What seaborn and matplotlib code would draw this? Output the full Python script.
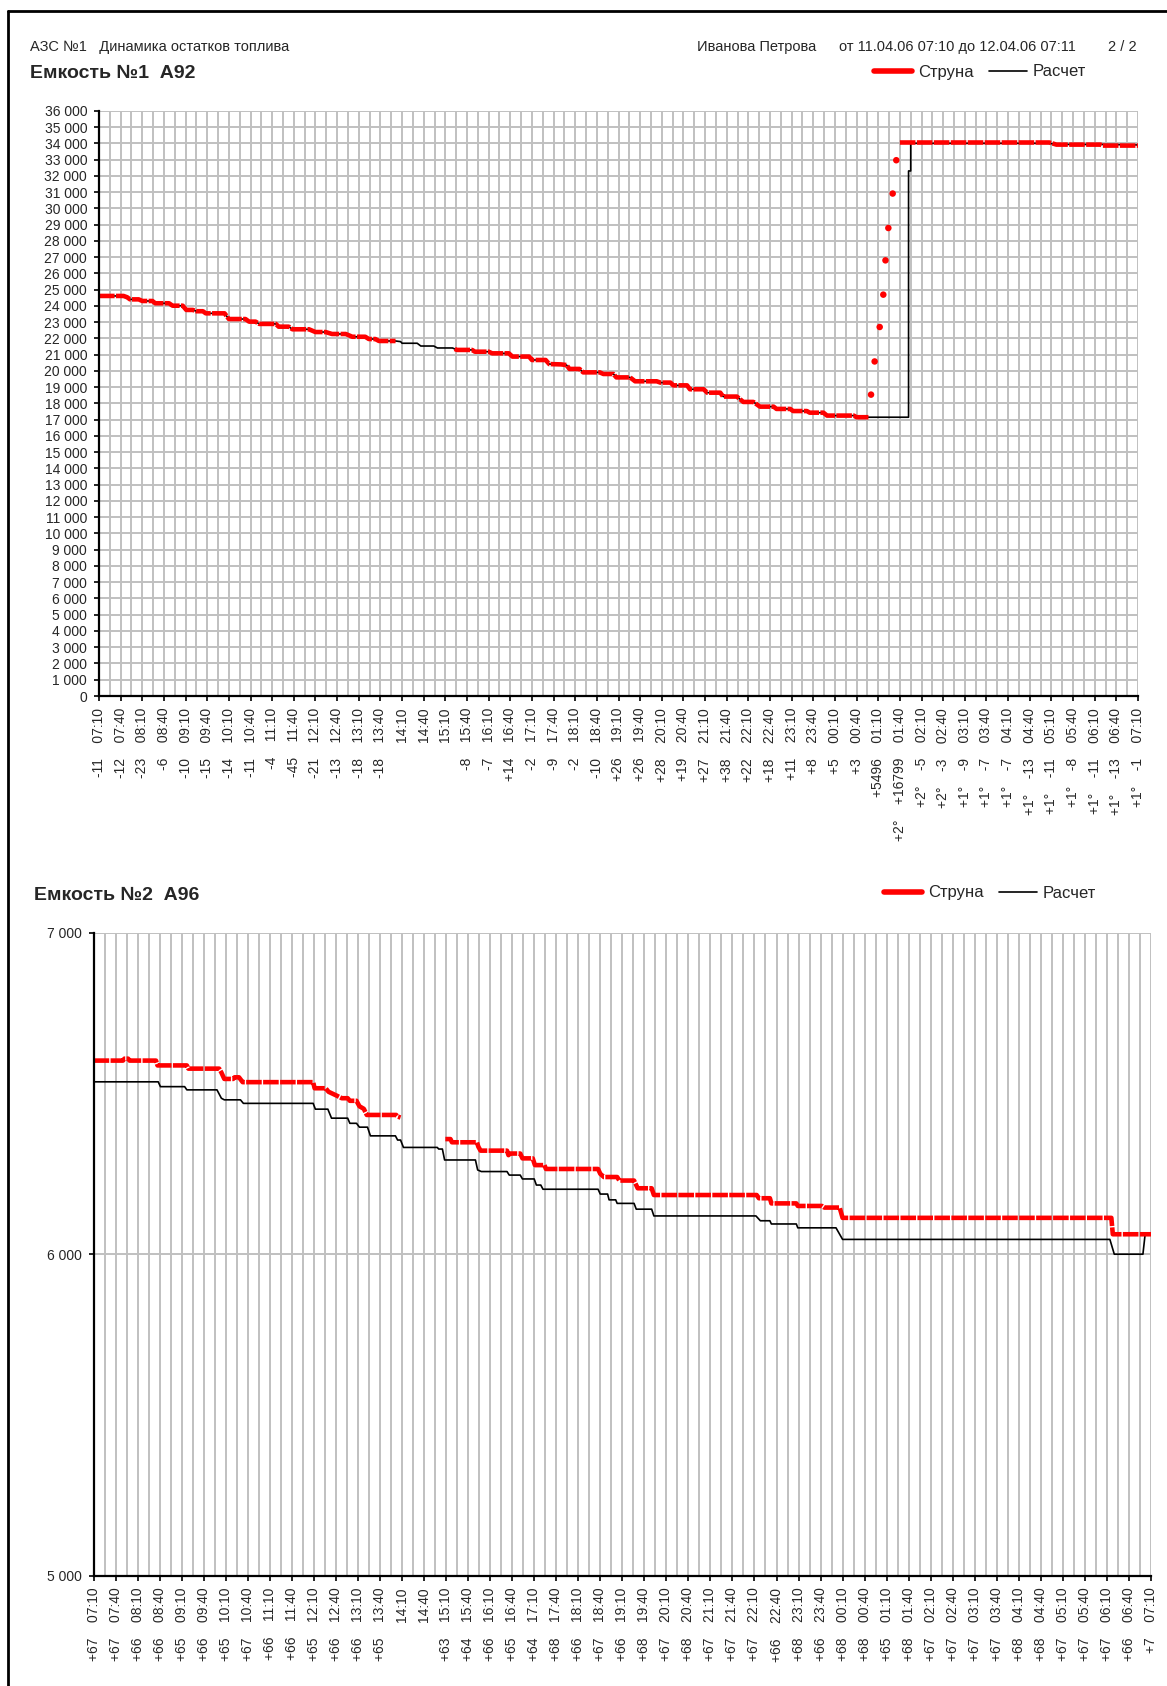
import numpy as np
import pandas as pd
import seaborn as sns
import matplotlib.pyplot as plt
from matplotlib.lines import Line2D
from matplotlib.ticker import MultipleLocator, FixedLocator, FuncFormatter

# -----------------------------------------------------
# Data (minutes since 11.04.06 07:10, litres)
# -----------------------------------------------------

tick_times = ["07:10", "07:40", "08:10", "08:40", "09:10", "09:40", "10:10", "10:40",
              "11:10", "11:40", "12:10", "12:40", "13:10", "13:40", "14:10", "14:40",
              "15:10", "15:40", "16:10", "16:40", "17:10", "17:40", "18:10", "18:40",
              "19:10", "19:40", "20:10", "20:40", "21:10", "21:40", "22:10", "22:40",
              "23:10", "23:40", "00:10", "00:40", "01:10", "01:40", "02:10", "02:40",
              "03:10", "03:40", "04:10", "04:40", "05:10", "05:40", "06:10", "06:40", "07:10"]
tick_minutes = list(range(0, 1441, 30))

# tank 1 tick annotations
t1_delta = ["-11", "-12", "-23", "-6", "-10", "-15", "-14", "-11", "-4", "-45", "-21", "-13",
            "-18", "-18", "", "", "", "-8", "-7", "+14", "-2", "-9", "-2", "-10", "+26", "+26",
            "+28", "+19", "+27", "+38", "+22", "+18", "+11", "+8", "+5", "+3", "+5496", "+16799",
            "-5", "-3", "-9", "-7", "-7", "-13", "-11", "-8", "-11", "-13", "-1"]
t1_temp = [""] * 37 + ["+2°", "+2°", "+2°", "+1°", "+1°", "+1°", "+1°", "+1°", "+1°", "+1°",
                       "+1°", "+1°"]

# tank 2 tick annotations
t2_delta = ["+67", "+67", "+66", "+66", "+65", "+66", "+65", "+67", "+66", "+66", "+65", "+66",
            "+66", "+65", "", "", "+63", "+64", "+66", "+65", "+64", "+68", "+66", "+67", "+66",
            "+68", "+67", "+68", "+67", "+67", "+67", "+66", "+68", "+66", "+68", "+68", "+65",
            "+68", "+67", "+67", "+67", "+67", "+68", "+68", "+67", "+67", "+67", "+66", "+7"]

# tank 1, "Струна" (gauge) — three recorded stretches
s1_a_t = [0, 34, 39, 43, 55, 60, 74, 78, 97, 102, 116, 121, 130, 135, 144, 148, 174, 180, 203,
          208, 217, 222, 245, 249, 263, 268, 291, 300, 314, 323, 342, 351, 369, 374, 383, 388, 411]
s1_a_v = [24610, 24610, 24530, 24400, 24400, 24300, 24300, 24160, 24160, 24010, 24010, 23750,
          23750, 23670, 23670, 23540, 23540, 23190, 23190, 23030, 23030, 22890, 22890, 22720,
          22720, 22560, 22560, 22390, 22390, 22270, 22270, 22100, 22100, 21960, 21960, 21840, 21840]
s1_b_t = [493, 496, 517, 521, 540, 545, 568, 573, 596, 600, 619, 624, 640, 648, 652, 666, 671,
          694, 699, 713, 717, 736, 743, 773, 778, 792, 796, 815, 819, 838, 843, 861, 865, 884,
          893, 907, 916, 935, 939, 958, 962, 981, 985, 1004, 1009, 1046, 1050, 1067]
s1_b_v = [21350, 21290, 21290, 21180, 21180, 21080, 21080, 20880, 20880, 20670, 20670, 20420,
          20400, 20360, 20120, 20120, 19910, 19910, 19810, 19810, 19600, 19600, 19360, 19360,
          19280, 19280, 19110, 19110, 18870, 18870, 18660, 18660, 18420, 18420, 18090, 18090,
          17800, 17800, 17660, 17660, 17530, 17530, 17430, 17430, 17250, 17250, 17150, 17150]
s1_c_t = [1110, 1317, 1327, 1388, 1391, 1440]
s1_c_v = [34050, 34050, 33920, 33920, 33860, 33860]
# single readings during the delivery
s1_fill_t = [1070, 1075, 1082, 1087, 1090, 1094, 1100, 1105]
s1_fill_v = [18540, 20580, 22700, 24690, 26800, 28790, 30910, 32960]

# tank 1, "Расчет" (calculated)
c1_gap_t = [411, 418, 420, 441, 446, 464, 469, 490, 493]
c1_gap_v = [21840, 21800, 21700, 21700, 21530, 21530, 21410, 21410, 21350]
c1_tail_t = [1067, 1122, 1122, 1125, 1125, 1317, 1327, 1388, 1440]
c1_tail_v = [17150, 17150, 32300, 32300, 34000, 34000, 33930, 33930, 33900]

# tank 2, "Струна"
s2_a_t = [0, 40, 42, 47, 49, 85, 87, 127, 129, 171, 174, 178, 190, 192, 198, 203, 299, 301,
          316, 320, 332, 338, 346, 349, 358, 362, 368, 372, 412, 414, 418]
s2_a_v = [6602, 6602, 6608, 6608, 6602, 6602, 6587, 6587, 6577, 6577, 6565, 6545, 6545, 6550,
          6550, 6535, 6535, 6516, 6516, 6505, 6492, 6485, 6485, 6477, 6477, 6460, 6452, 6433,
          6433, 6428, 6425]
s2_b_t = [479, 486, 488, 522, 524, 527, 563, 565, 567, 581, 584, 598, 601, 614, 616, 687, 690,
          695, 713, 716, 736, 741, 760, 763, 903, 906, 921, 923, 957, 959, 992, 995, 1016, 1020,
          1386, 1388, 1440]
s2_b_v = [6358, 6358, 6348, 6348, 6334, 6322, 6322, 6308, 6313, 6313, 6298, 6298, 6277, 6277,
          6265, 6265, 6250, 6240, 6240, 6229, 6229, 6205, 6205, 6184, 6184, 6174, 6174, 6158,
          6158, 6150, 6150, 6145, 6145, 6113, 6113, 6062, 6062]

# tank 2, "Расчет"
c2_t = [0, 88, 91, 124, 127, 168, 174, 178, 200, 204, 299, 302, 319, 324, 346, 349, 358, 362,
        373, 377, 411, 414, 418, 422, 468, 470, 475, 478, 520, 523, 528, 563, 566, 581, 584, 600,
        603, 609, 612, 687, 690, 700, 702, 711, 713, 736, 739, 760, 763, 902, 908, 921, 923, 957,
        959, 1011, 1020, 1384, 1390, 1429, 1432, 1440]
c2_v = [6536, 6536, 6521, 6521, 6511, 6511, 6485, 6480, 6480, 6469, 6469, 6451, 6451, 6423,
        6423, 6407, 6407, 6395, 6395, 6368, 6368, 6355, 6355, 6332, 6332, 6327, 6327, 6293, 6293,
        6262, 6257, 6257, 6246, 6246, 6234, 6234, 6215, 6215, 6202, 6202, 6187, 6187, 6169, 6169,
        6158, 6158, 6140, 6140, 6119, 6119, 6104, 6104, 6094, 6094, 6082, 6082, 6046, 6046, 6000,
        6000, 6062, 6062]

# -----------------------------------------------------
# Tables for seaborn
# -----------------------------------------------------

def segments(*pairs):
    parts = []
    for i, (t, v) in enumerate(pairs):
        parts.append(pd.DataFrame({"t": t, "v": v, "seg": i}))
    return pd.concat(parts, ignore_index=True)

strung1 = segments((s1_a_t, s1_a_v), (s1_b_t, s1_b_v), (s1_c_t, s1_c_v))
calc1 = pd.DataFrame({"t": s1_a_t + c1_gap_t[1:] + s1_b_t[1:] + c1_tail_t[1:],
                      "v": s1_a_v + c1_gap_v[1:] + s1_b_v[1:] + c1_tail_v[1:]})
fill1 = pd.DataFrame({"t": s1_fill_t, "v": s1_fill_v})
strung2 = segments((s2_a_t, s2_a_v), (s2_b_t, s2_b_v))
calc2 = pd.DataFrame({"t": c2_t, "v": c2_v})

# -----------------------------------------------------
# Figure
# -----------------------------------------------------

W, H = 1167, 1686
sns.set_style("ticks")
plt.rcParams['font.family'] = ['Liberation Sans', 'DejaVu Sans']

fig = plt.figure(figsize=(W / 100, H / 100), dpi=100)


def fx(x):
    return x / W


def fy(y):
    return 1 - y / H


ax1 = fig.add_axes([fx(99), fy(696), (1138 - 99) / W, (696 - 110.8) / H])
ax2 = fig.add_axes([fx(93.6), fy(1575.8), (1151 - 93.6) / W, (1575.8 - 932.6) / H])

grid_kw = dict(color="#c0c0c0", lw=1.4)
red_kw = dict(color="red", lw=3.3, linestyle=(0, (3.4, 0.3)), solid_capstyle="butt")


def make_labels(deltas, temps=None):
    out = []
    for i, tm in enumerate(tick_times):
        parts = []
        if temps and temps[i]:
            parts.append(temps[i])
        if deltas[i]:
            parts.append(deltas[i])
        parts.append(tm)
        out.append("    ".join(parts))
    return out


def style_axes(ax, ylo, yhi, labels):
    ax.set_xlim(0, 1440)
    ax.set_ylim(ylo, yhi)
    ax.xaxis.set_major_locator(FixedLocator(tick_minutes))
    ax.xaxis.set_minor_locator(MultipleLocator(15))
    ax.set_xticklabels(labels, rotation=90, fontsize=10)
    ax.yaxis.set_major_locator(MultipleLocator(1000))
    ax.yaxis.set_major_formatter(FuncFormatter(lambda v, p: f"{int(v):,}".replace(",", " ")))
    ax.grid(True, which="both", axis="x", **grid_kw)
    ax.grid(True, which="major", axis="y", **grid_kw)
    ax.set_axisbelow(True)
    ax.tick_params(axis="both", which="major", direction="out", length=3.5, width=1.2,
                   color="black", pad=5, labelsize=10)
    ax.tick_params(which="minor", length=0)
    for s in ["top", "right"]:
        ax.spines[s].set_visible(False)
    for s in ["left", "bottom"]:
        ax.spines[s].set_linewidth(1.6)
        ax.spines[s].set_color("black")
    ax.set_xlabel("")
    ax.set_ylabel("")


# ---- tank 1
sns.lineplot(data=calc1, x="t", y="v", ax=ax1, color="black", lw=1.2,
             estimator=None, sort=False, legend=False)
sns.lineplot(data=strung1, x="t", y="v", units="seg", ax=ax1,
             estimator=None, sort=False, legend=False, **red_kw)
sns.scatterplot(data=fill1, x="t", y="v", ax=ax1, color="red", s=22, edgecolor="none",
                legend=False)
style_axes(ax1, 0, 36000, make_labels(t1_delta, t1_temp))

# ---- tank 2
sns.lineplot(data=calc2, x="t", y="v", ax=ax2, color="black", lw=1.2,
             estimator=None, sort=False, legend=False)
sns.lineplot(data=strung2, x="t", y="v", units="seg", ax=ax2,
             estimator=None, sort=False, legend=False, **red_kw)
style_axes(ax2, 5000, 7000, make_labels(t2_delta))

# ---- header texts
fig.text(fx(30), fy(47), "АЗС №1   Динамика остатков топлива", fontsize=10.5,
         ha="left", va="center")
fig.text(fx(697), fy(47), "Иванова Петрова", fontsize=10.5, ha="left", va="center")
fig.text(fx(839), fy(47), "от 11.04.06 07:10 до 12.04.06 07:11", fontsize=10.5,
         ha="left", va="center")
fig.text(fx(1137), fy(47), "2 / 2", fontsize=10.5, ha="right", va="center")
fig.text(fx(30), fy(74), "Емкость №1  А92", fontsize=14, fontweight="bold",
         ha="left", va="center")
fig.text(fx(34), fy(895), "Емкость №2  А96", fontsize=14, fontweight="bold",
         ha="left", va="center")

# ---- legends
handles = [Line2D([], [], color="red", lw=4), Line2D([], [], color="black", lw=1.2)]
leg_kw = dict(loc="center left", ncol=2, frameon=False, fontsize=12, handlelength=2.3,
              handletextpad=0.35, columnspacing=0.9, borderaxespad=0, borderpad=0)
fig.legend(handles, ["Струна", "Расчет"], bbox_to_anchor=(fx(874), fy(72)), **leg_kw)
fig.legend(handles, ["Струна", "Расчет"], bbox_to_anchor=(fx(884), fy(893)), **leg_kw)

# ---- page frame
fig.add_artist(Line2D([fx(8), 1], [fy(11), fy(11)], color="black", lw=2,
                      transform=fig.transFigure))
fig.add_artist(Line2D([fx(8), fx(8)], [fy(11), 0], color="black", lw=2,
                      transform=fig.transFigure))

fig.savefig("out.png", dpi=100)
